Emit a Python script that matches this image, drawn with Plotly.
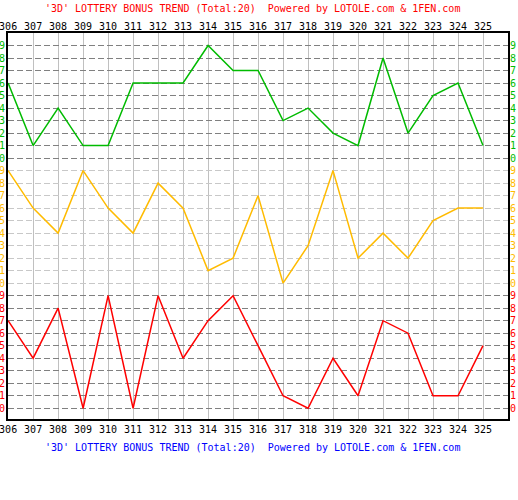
import plotly.graph_objects as go

periods = list(range(306, 326))
green_vals = [6, 1, 4, 1, 1, 6, 6, 6, 9, 7, 7, 3, 4, 2, 1, 8, 2, 5, 6, 1]
yellow_vals = [9, 6, 4, 9, 6, 4, 8, 6, 1, 2, 7, 0, 3, 9, 2, 4, 2, 5, 6, 6]
red_vals = [7, 4, 8, 0, 9, 0, 9, 4, 7, 9, 5, 1, 0, 4, 1, 7, 6, 1, 1, 5]
digits = list(range(10))

GREEN = "#00bb00"
YELLOW = "#ffbb00"
RED = "#ff0000"
FONT = "DejaVu Sans Mono"
title_text = "'3D' LOTTERY BONUS TREND (Total:20)\u00a0\u00a0Powered by LOTOLE.com & 1FEN.com"

# block offsets: red 0-9, yellow 10-19, green 20-29
blocks = [(red_vals, RED, 0), (yellow_vals, YELLOW, 10), (green_vals, GREEN, 20)]

fig = go.Figure()
for vals, col, off in blocks:
    fig.add_trace(go.Scatter(
        x=periods, y=[v + off for v in vals], mode="lines",
        line=dict(color=col, width=1.5), showlegend=False, hoverinfo="skip",
        xaxis="x", yaxis="y"))

fig.add_trace(go.Scatter(x=[periods[0]], y=[0], mode="markers", marker=dict(opacity=0),
                         showlegend=False, hoverinfo="skip", xaxis="x2", yaxis="y"))
fig.add_trace(go.Scatter(x=[periods[0]], y=[0], mode="markers", marker=dict(opacity=0),
                         showlegend=False, hoverinfo="skip", xaxis="x", yaxis="y2"))

YR = [-0.86, 30]
XR = [305.995, 326]

dark_levels = [d for d in digits] + [d + 20 for d in digits]
light_levels = [d + 10 for d in digits]

annotations = []
for vals, col, off in blocks:
    for d in digits:
        annotations.append(dict(x=0, xref="paper", y=d + off, yref="y", text=str(d),
                                showarrow=False, xanchor="right", xshift=-1,
                                font=dict(family=FONT, size=10, color=col)))
        annotations.append(dict(x=1, xref="paper", y=d + off, yref="y", text=str(d),
                                showarrow=False, xanchor="left", xshift=0,
                                font=dict(family=FONT, size=10, color=col)))

annotations.append(dict(x=0, xref="paper", y=1, yref="paper", text=title_text, showarrow=False,
                        xanchor="left", yanchor="middle", xshift=35, yshift=25,
                        font=dict(family=FONT, size=10, color=RED)))
annotations.append(dict(x=0, xref="paper", y=0, yref="paper", text=title_text, showarrow=False,
                        xanchor="left", yanchor="middle", xshift=35, yshift=-28,
                        font=dict(family=FONT, size=10, color="#0000ff")))

fig.update_layout(
    width=518, height=500,
    margin=dict(l=8, r=10, t=33, b=81, pad=0, autoexpand=False),
    paper_bgcolor="white", plot_bgcolor="white",
    font=dict(family=FONT, size=10, color="black"),
    xaxis=dict(range=XR, tickvals=periods, ticktext=[str(p) for p in periods],
               showgrid=True, gridcolor="#c0c0c0", gridwidth=1,
               showline=True, linecolor="black", linewidth=2, mirror=True,
               ticks="", zeroline=False, side="bottom", automargin=False,
               ticklabeloverflow="allow",
               tickfont=dict(family=FONT, size=10, color="black")),
    xaxis2=dict(range=XR, overlaying="x", side="top", tickvals=periods,
                ticktext=[str(p) for p in periods], showgrid=False, ticks="",
                zeroline=False, showline=False, automargin=False,
                ticklabeloverflow="allow",
                tickfont=dict(family=FONT, size=10, color="black")),
    yaxis=dict(range=YR, tickvals=dark_levels, showticklabels=False, ticks="",
               showgrid=True, gridcolor="#808080", gridwidth=1, griddash="6px,3px",
               showline=True, linecolor="black", linewidth=2, mirror=True,
               zeroline=False, automargin=False),
    yaxis2=dict(range=YR, overlaying="y", tickvals=light_levels, showticklabels=False,
                ticks="", showgrid=True, gridcolor="#c8c8c8", gridwidth=1,
                griddash="6px,3px", zeroline=False, showline=False, automargin=False),
    annotations=annotations,
)

fig.write_html("out.html", config={"displayModeBar": False},
               post_script="document.body.style.margin='0';")
